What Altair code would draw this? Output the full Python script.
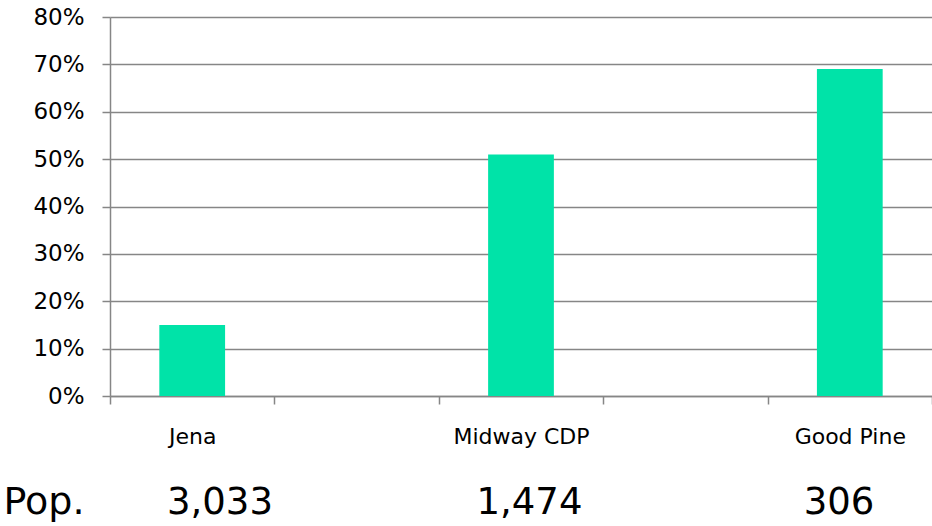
import altair as alt
import pandas as pd

# slots along the x axis (two empty slots between the named places)
slots = ["Jena", "gap1", "Midway CDP", "gap2", "Good Pine"]
places = ["Jena", "Midway CDP", "Good Pine"]
shares = [0.15, 0.51, 0.69]
populations = ["3,033", "1,474", "306"]
y_ticks = [0, 0.1, 0.2, 0.3, 0.4, 0.5, 0.6, 0.7, 0.8]

df = pd.DataFrame({"place": places, "share": shares, "pop": populations})

FONT = "DejaVu Sans"
GRAY = "#868686"

x_enc = alt.X(
    "place:N",
    scale=alt.Scale(domain=slots, paddingInner=0, paddingOuter=0),
    axis=alt.Axis(
        title=None,
        labelExpr="indexof(['gap1','gap2'], datum.value) >= 0 ? '' : datum.value",
        tickBand="extent",
        tickSize=8,
        tickColor=GRAY,
        tickWidth=1.5,
        domainColor=GRAY,
        domainWidth=1.5,
        labelFont=FONT,
        labelFontSize=22,
        labelColor="#000000",
        labelPadding=22,
        labelAngle=0,
        grid=False,
    ),
)

bars = alt.Chart(df).mark_bar(color="#00E3A8", width=alt.RelativeBandSize(0.4)).encode(
    x=x_enc,
    y=alt.Y(
        "share:Q",
        scale=alt.Scale(domain=[0, 0.8], nice=False),
        axis=alt.Axis(
            title=None,
            values=y_ticks,
            format=".0%",
            tickSize=8,
            tickColor=GRAY,
            tickWidth=1.5,
            domainColor=GRAY,
            domainWidth=1.5,
            gridColor=GRAY,
            gridWidth=1.5,
            labelFont=FONT,
            labelFontSize=23,
            labelColor="#000000",
            labelPadding=18,
        ),
    ),
)

# population row: its own evenly spaced column scale
pop_values = alt.Chart(df).mark_text(
    font=FONT, fontSize=37, baseline="middle", align="center", color="#000000"
).encode(
    x=alt.X(
        "place:N",
        scale=alt.Scale(type="point", domain=places, range=[110, 729], padding=0),
        axis=None,
    ),
    y=alt.value(486),
    text="pop:N",
)

pop_label = alt.Chart(pd.DataFrame({"t": ["Pop."]})).mark_text(
    font=FONT, fontSize=38, baseline="middle", align="center", color="#000000"
).encode(
    x=alt.value(-66),
    y=alt.value(486),
    text="t:N",
)

chart = (
    alt.layer(bars, pop_values, pop_label)
    .resolve_scale(x="independent")
    .properties(
        width=822,
        height=379,
        padding={"left": 110, "top": 17, "right": 0, "bottom": 130},
        autosize=alt.AutoSizeParams(type="none"),
        background="#ffffff",
    )
    .configure_view(stroke=None)
)

chart.save("out.html", embed_options={"renderer": "svg", "actions": False})
